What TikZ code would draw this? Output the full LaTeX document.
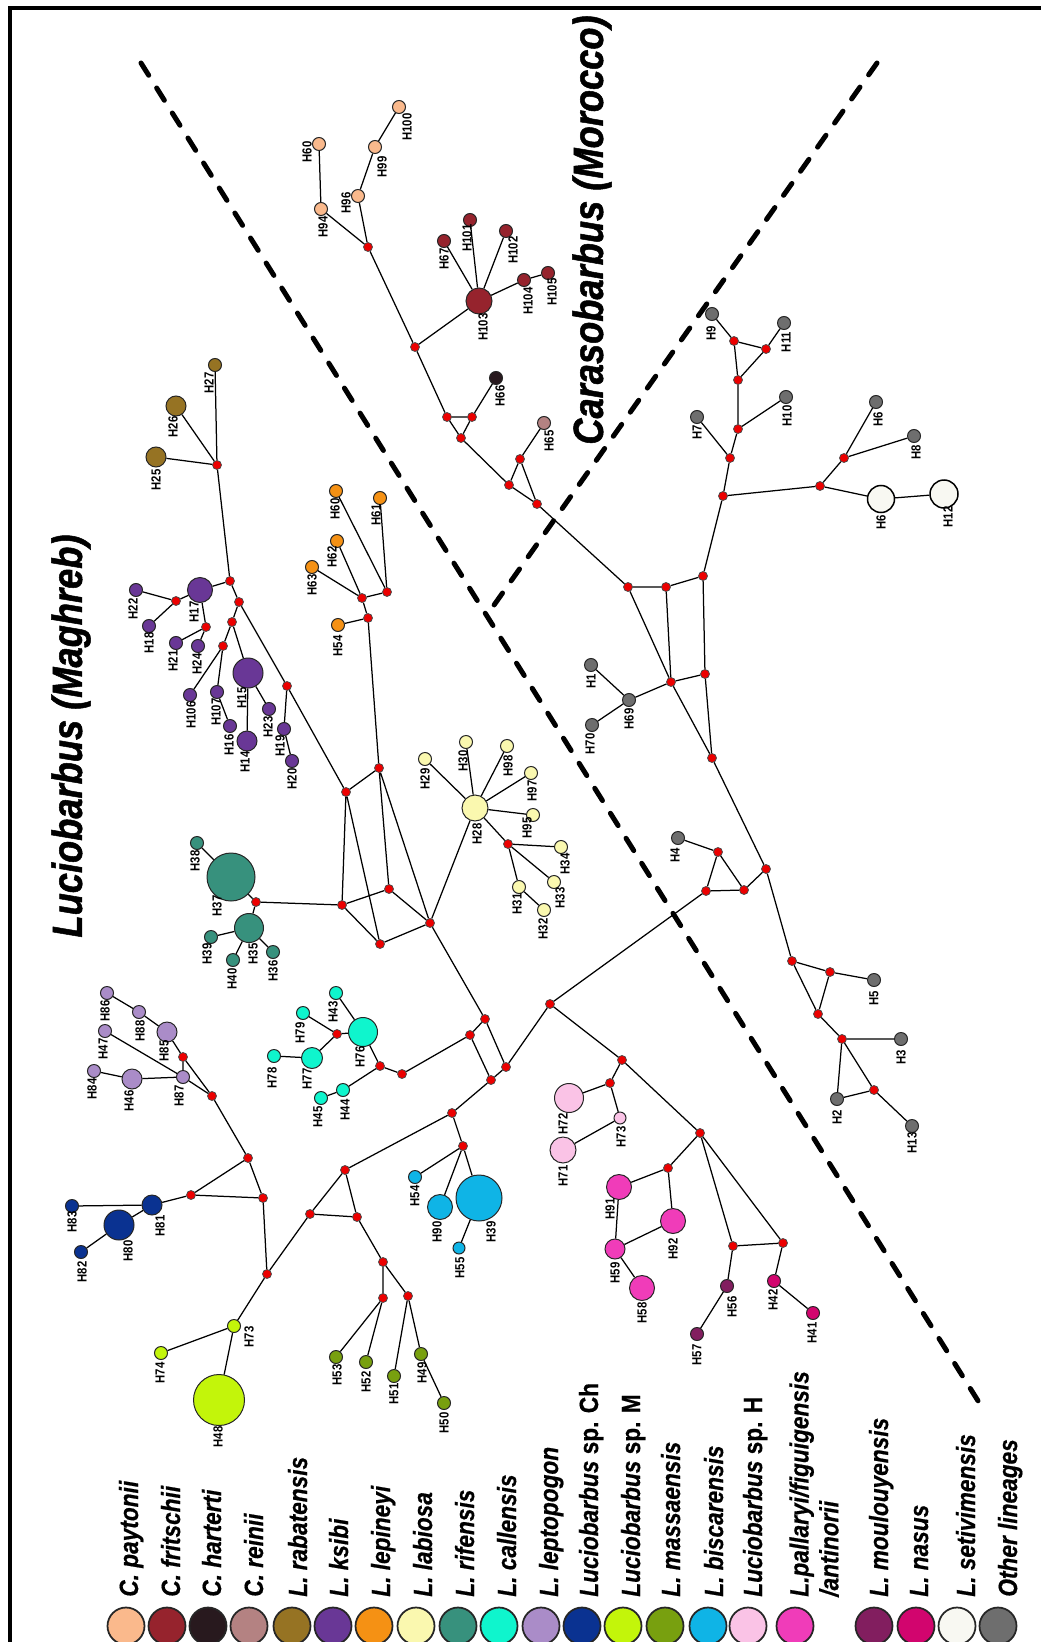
\documentclass[tikz,border=0pt]{standalone}
\usepackage{fontspec}
\setmainfont{Liberation Sans}
\newfontfamily\narrowsf[FakeStretch=0.86]{Liberation Sans}
\usetikzlibrary{shapes}
\definecolor{medred}{RGB}{236,0,0}
\definecolor{cpay}{RGB}{250,185,140}
\definecolor{cfri}{RGB}{150,35,45}
\definecolor{char}{RGB}{40,25,30}
\definecolor{crei}{RGB}{180,130,130}
\definecolor{lrab}{RGB}{150,115,35}
\definecolor{lksi}{RGB}{105,55,150}
\definecolor{llep}{RGB}{245,145,20}
\definecolor{llab}{RGB}{250,248,175}
\definecolor{lrif}{RGB}{55,145,125}
\definecolor{lcal}{RGB}{15,245,205}
\definecolor{llpt}{RGB}{170,140,200}
\definecolor{lsch}{RGB}{10,50,145}
\definecolor{lspm}{RGB}{195,245,10}
\definecolor{lmas}{RGB}{120,160,15}
\definecolor{lbis}{RGB}{15,180,230}
\definecolor{lsph}{RGB}{250,195,230}
\definecolor{lpal}{RGB}{240,60,185}
\definecolor{lmou}{RGB}{130,30,95}
\definecolor{lnas}{RGB}{210,5,110}
\definecolor{lset}{RGB}{248,248,242}
\definecolor{oth}{RGB}{110,110,110}

\begin{document}
\begin{tikzpicture}
  [x=0.2mm,y=-0.2mm,
   hap/.style={circle,draw=black!85,line width=0.2mm,inner sep=0pt,minimum size=#1*0.2mm},
   med/.style={circle,draw=black!70,fill=medred,line width=0.15mm,inner sep=0pt,minimum size=1.8mm},
   edge/.style={line width=0.25mm},
   lab/.style={rotate=90,inner sep=0pt,font=\narrowsf\bfseries\fontsize{7.5}{8}\selectfont},
   key/.style={circle,draw=black!85,line width=0.35mm,inner sep=0pt,minimum size=7.4mm},
   keytext/.style={rotate=90,anchor=base west,inner sep=0pt,font=\narrowsf\bfseries\fontsize{15}{17}\selectfont\addfontfeature{FakeBold=0.6}},
   title/.style={rotate=90,inner sep=0pt,font=\narrowsf\bfseries\itshape\fontsize{24}{28}\selectfont\addfontfeature{FakeBold=1.2}},
   divide/.style={line width=1mm,dash pattern=on 2.9mm off 3mm,line cap=round}]

  \useasboundingbox (0,0) rectangle (1041,1642);
  \draw[line width=0.8mm] (10,1642) -- (10,8) -- (1041,8);

  % group borders
  \coordinate (d1a) at (141,63);
  \coordinate (d1b) at (985,1412);
  \coordinate (d2a) at (877,63);
  \coordinate (d2b) at (487,615);
  \draw[divide] (d1a) -- (d1b);
  \draw[divide] (d2a) -- (d2b);

  \node[title] (tcar) at (592,230) {Carasobarbus (Morocco)};
  \node[title] (tluc) at (71,736) {Luciobarbus (Maghreb)};

  % median vectors
  \node[med] (v1) at (368,247) {};
  \node[med] (v2) at (415,347) {};
  \node[med] (v3) at (734,341) {};
  \node[med] (v4) at (766,349) {};
  \node[med] (v5) at (738,380) {};
  \node[med] (v6) at (217,465) {};
  \node[med] (v7) at (230,581) {};
  \node[med] (v8) at (176,601) {};
  \node[med] (v9) at (239,602) {};
  \node[med] (v10) at (206,627) {};
  \node[med] (v11) at (232,622) {};
  \node[med] (v12) at (223,646) {};
  \node[med] (v13) at (287,686) {};
  \node[med] (v14) at (346,792) {};
  \node[med] (v15) at (447,417) {};
  \node[med] (v16) at (472,417) {};
  \node[med] (v17) at (461,438) {};
  \node[med] (v18) at (520,459) {};
  \node[med] (v19) at (509,485) {};
  \node[med] (v20) at (537,504) {};
  \node[med] (v21) at (628,587) {};
  \node[med] (v22) at (666,587) {};
  \node[med] (v23) at (387,592) {};
  \node[med] (v24) at (362,598) {};
  \node[med] (v25) at (368,618) {};
  \node[med] (v26) at (671,682) {};
  \node[med] (v27) at (379,768) {};
  \node[med] (v29) at (738,429) {};
  \node[med] (v30) at (730,458) {};
  \node[med] (v31) at (723,496) {};
  \node[med] (v32) at (820,486) {};
  \node[med] (v33) at (844,458) {};
  \node[med] (v34) at (703,576) {};
  \node[med] (v35) at (705,674) {};
  \node[med] (v36) at (712,758) {};
  \node[med] (v37) at (718,852) {};
  \node[med] (v38) at (706,891) {};
  \node[med] (v39) at (744,890) {};
  \node[med] (v40) at (766,869) {};
  \node[med] (v41) at (792,961) {};
  \node[med] (v42) at (830,972) {};
  \node[med] (v43) at (818,1014) {};
  \node[med] (v44) at (842,1039) {};
  \node[med] (v45) at (874,1090) {};
  \node[med] (v46) at (700,1133) {};
  \node[med] (v47) at (550,1004) {};
  \node[med] (v48) at (508,844) {};
  \node[med] (v49) at (389,889) {};
  \node[med] (v50) at (430,923) {};
  \node[med] (v51) at (380,944) {};
  \node[med] (v52) at (342,905) {};
  \node[med] (v53) at (485,1019) {};
  \node[med] (v54) at (470,1035) {};
  \node[med] (v55) at (506,1067) {};
  \node[med] (v56) at (491,1080) {};
  \node[med] (v57) at (380,1066) {};
  \node[med] (v58) at (402,1074) {};
  \node[med] (v59) at (452,1113) {};
  \node[med] (v60) at (463,1146) {};
  \node[med] (v61) at (345,1170) {};
  \node[med] (v62) at (357,1217) {};
  \node[med] (v63) at (622,1060) {};
  \node[med] (v64) at (610,1083) {};
  \node[med] (v65) at (668,1168) {};
  \node[med] (v66) at (256,902) {};
  \node[med] (v67) at (383,1262) {};
  \node[med] (v68) at (383,1298) {};
  \node[med] (v69) at (408,1296) {};
  \node[med] (v70) at (733,1246) {};
  \node[med] (v71) at (783,1243) {};
  \node[med] (v72) at (183,1057) {};
  \node[med] (v73) at (212,1096) {};
  \node[med] (v74) at (248,1158) {};
  \node[med] (v75) at (191,1195) {};
  \node[med] (v76) at (263,1198) {};
  \node[med] (v77) at (337,1034) {};
  \node[med] (v79) at (310,1214) {};
  \node[med] (v80) at (267,1274) {};

  % C. paytonii
  \node[hap=13,fill=cpay] (h60c) at (319,144) {};
  \node[hap=13,fill=cpay] (h94) at (321,209) {};
  \node[hap=13,fill=cpay] (h96) at (358,196) {};
  \node[hap=13,fill=cpay] (h99) at (375,147) {};
  \node[hap=13,fill=cpay] (h100) at (399,107) {};
  \node[lab] (th60c) at (307,152) {H60};
  \node[lab] (th94) at (323,227) {H94};
  \node[lab] (th96) at (346,203) {H96};
  \node[lab] (th99) at (382,167) {H99};
  \node[lab] (th100) at (407,127) {H100};
  % C. fritschii, C. harterti, C. reinii
  \node[hap=26,fill=cfri] (h103) at (479,301) {};
  \node[hap=13,fill=cfri] (h67) at (444,241) {};
  \node[hap=13,fill=cfri] (h101) at (470,220) {};
  \node[hap=13,fill=cfri] (h102) at (506,231) {};
  \node[hap=13,fill=cfri] (h104) at (524,280) {};
  \node[hap=13,fill=cfri] (h105) at (548,273) {};
  \node[hap=13,fill=char] (h66) at (496,378) {};
  \node[hap=13,fill=crei] (h65) at (544,423) {};
  \node[lab] (th103) at (483,327) {H103};
  \node[lab] (th67) at (444,259) {H67};
  \node[lab] (th101) at (467,238) {H101};
  \node[lab] (th102) at (513,250) {H102};
  \node[lab] (th104) at (528,301) {H104};
  \node[lab] (th105) at (552,292) {H105};
  \node[lab] (th66) at (500,396) {H66};
  \node[lab] (th65) at (549,441) {H65};
  % L. rabatensis, L. ksibi
  \node[hap=20,fill=lrab] (h25) at (156,457) {};
  \node[hap=20,fill=lrab] (h26) at (176,406) {};
  \node[hap=13,fill=lrab] (h27) at (215,365) {};
  \node[lab] (th25) at (156,480) {H25};
  \node[lab] (th26) at (173,427) {H26};
  \node[lab] (th27) at (209,383) {H27};
  \node[hap=25,fill=lksi] (h17) at (200,590) {};
  \node[hap=13,fill=lksi] (h22) at (136,590) {};
  \node[hap=13,fill=lksi] (h18) at (149,626) {};
  \node[hap=13,fill=lksi] (h21) at (176,643) {};
  \node[hap=13,fill=lksi] (h24) at (198,646) {};
  \node[hap=13,fill=lksi] (h106) at (190,695) {};
  \node[hap=13,fill=lksi] (h107) at (217,692) {};
  \node[hap=30,fill=lksi] (h15) at (248,673) {};
  \node[hap=13,fill=lksi] (h16) at (230,726) {};
  \node[hap=20,fill=lksi] (h14) at (247,741) {};
  \node[hap=13,fill=lksi] (h23) at (269,709) {};
  \node[hap=13,fill=lksi] (h19) at (284,729) {};
  \node[hap=13,fill=lksi] (h20) at (292,761) {};
  \node[lab] (th17) at (194,612) {H17};
  \node[lab] (th22) at (133,609) {H22};
  \node[lab] (th18) at (149,643) {H18};
  \node[lab] (th21) at (173,661) {H21};
  \node[lab] (th24) at (197,664) {H24};
  \node[lab] (th106) at (191,715) {H106};
  \node[lab] (th107) at (216,712) {H107};
  \node[lab] (th15) at (242,698) {H15};
  \node[lab] (th16) at (229,745) {H16};
  \node[lab] (th14) at (245,762) {H14};
  \node[lab] (th23) at (268,727) {H23};
  \node[lab] (th19) at (280,746) {H19};
  \node[lab] (th20) at (292,779) {H20};
  % L. lepineyi
  \node[hap=13,fill=llep] (h60o) at (336,491) {};
  \node[hap=13,fill=llep] (h62) at (337,541) {};
  \node[hap=13,fill=llep] (h63) at (312,567) {};
  \node[hap=13,fill=llep] (h54o) at (338,625) {};
  \node[hap=13,fill=llep] (h61) at (380,498) {};
  \node[lab] (th60o) at (335,509) {H60};
  \node[lab] (th62) at (332,557) {H62};
  \node[lab] (th63) at (312,585) {H63};
  \node[lab] (th54o) at (338,646) {H54};
  \node[lab] (th61) at (376,515) {H61};
  % L. labiosa
  \node[hap=26,fill=llab] (h28) at (475,808) {};
  \node[hap=13,fill=llab] (h29) at (425,759) {};
  \node[hap=13,fill=llab] (h30) at (466,742) {};
  \node[hap=13,fill=llab] (h98) at (507,746) {};
  \node[hap=13,fill=llab] (h97) at (531,773) {};
  \node[hap=13,fill=llab] (h95) at (533,815) {};
  \node[hap=13,fill=llab] (h34) at (561,847) {};
  \node[hap=13,fill=llab] (h33) at (554,882) {};
  \node[hap=13,fill=llab] (h31) at (519,887) {};
  \node[hap=13,fill=llab] (h32) at (544,910) {};
  \node[lab] (th28) at (477,834) {H28};
  \node[lab] (th29) at (425,779) {H29};
  \node[lab] (th30) at (463,761) {H30};
  \node[lab] (th98) at (508,766) {H98};
  \node[lab] (th97) at (532,791) {H97};
  \node[lab] (th95) at (527,828) {H95};
  \node[lab] (th34) at (565,864) {H34};
  \node[lab] (th33) at (560,898) {H33};
  \node[lab] (th31) at (517,904) {H31};
  \node[lab] (th32) at (543,929) {H32};
  % L. rifensis
  \node[hap=48,fill=lrif] (h37) at (231,877) {};
  \node[hap=13,fill=lrif] (h38) at (197,843) {};
  \node[hap=29,fill=lrif] (h35) at (249,928) {};
  \node[hap=13,fill=lrif] (h39t) at (211,937) {};
  \node[hap=13,fill=lrif] (h40) at (233,960) {};
  \node[hap=13,fill=lrif] (h36) at (273,952) {};
  \node[lab] (th37) at (217,906) {H37};
  \node[lab] (th38) at (195,861) {H38};
  \node[lab] (th35) at (253,954) {H35};
  \node[lab] (th39t) at (207,954) {H39};
  \node[lab] (th40) at (232,979) {H40};
  \node[lab] (th36) at (273,971) {H36};
  % L. callensis
  \node[hap=29,fill=lcal] (h76) at (363,1032) {};
  \node[hap=13,fill=lcal] (h43) at (336,993) {};
  \node[hap=13,fill=lcal] (h79) at (303,1013) {};
  \node[hap=21,fill=lcal] (h77) at (312,1058) {};
  \node[hap=13,fill=lcal] (h78) at (274,1056) {};
  \node[hap=13,fill=lcal] (h44) at (343,1090) {};
  \node[hap=13,fill=lcal] (h45) at (321,1098) {};
  \node[lab] (th76) at (360,1057) {H76};
  \node[lab] (th43) at (333,1012) {H43};
  \node[lab] (th79) at (300,1033) {H79};
  \node[lab] (th77) at (307,1079) {H77};
  \node[lab] (th78) at (272,1078) {H78};
  \node[lab] (th44) at (345,1110) {H44};
  \node[lab] (th45) at (318,1117) {H45};
  % L. leptopogon
  \node[hap=13,fill=llpt] (h86) at (107,993) {};
  \node[hap=13,fill=llpt] (h88) at (139,1012) {};
  \node[hap=20,fill=llpt] (h85) at (167,1032) {};
  \node[hap=13,fill=llpt] (h47) at (105,1031) {};
  \node[hap=13,fill=llpt] (h84) at (94,1071) {};
  \node[hap=20,fill=llpt] (h46) at (132,1079) {};
  \node[hap=13,fill=llpt] (h87) at (183,1077) {};
  \node[lab] (th86) at (105,1011) {H86};
  \node[lab] (th88) at (140,1031) {H88};
  \node[lab] (th85) at (164,1051) {H85};
  \node[lab] (th47) at (103,1049) {H47};
  \node[lab] (th84) at (92,1089) {H84};
  \node[lab] (th46) at (129,1101) {H46};
  \node[lab] (th87) at (179,1096) {H87};
  % Luciobarbus sp. Ch, sp. M
  \node[hap=20,fill=lsch] (h81) at (152,1205) {};
  \node[hap=13,fill=lsch] (h83) at (72,1206) {};
  \node[hap=30,fill=lsch] (h80) at (119,1225) {};
  \node[hap=13,fill=lsch] (h82) at (81,1252) {};
  \node[lab] (th81) at (160,1226) {H81};
  \node[lab] (th83) at (72,1222) {H83};
  \node[lab] (th80) at (128,1251) {H80};
  \node[lab] (th82) at (82,1272) {H82};
  \node[hap=13,fill=lspm] (h73g) at (234,1326) {};
  \node[hap=13,fill=lspm] (h74) at (161,1353) {};
  \node[hap=51,fill=lspm] (h48) at (219,1400) {};
  \node[lab] (th73g) at (249,1337) {H73};
  \node[lab] (th74) at (160,1373) {H74};
  \node[lab] (th48) at (218,1437) {H48};
  % L. massaensis
  \node[hap=13,fill=lmas] (h53) at (336,1357) {};
  \node[hap=13,fill=lmas] (h52) at (366,1362) {};
  \node[hap=13,fill=lmas] (h51) at (394,1376) {};
  \node[hap=13,fill=lmas] (h49) at (421,1354) {};
  \node[hap=13,fill=lmas] (h50) at (444,1403) {};
  \node[lab] (th53) at (337,1375) {H53};
  \node[lab] (th52) at (366,1382) {H52};
  \node[lab] (th51) at (394,1394) {H51};
  \node[lab] (th49) at (422,1373) {H49};
  \node[lab] (th50) at (444,1423) {H50};
  % L. biscarensis
  \node[hap=13,fill=lbis] (h54b) at (415,1177) {};
  \node[hap=25,fill=lbis] (h90) at (440,1207) {};
  \node[hap=46,fill=lbis] (h39b) at (479,1198) {};
  \node[hap=12,fill=lbis] (h55) at (459,1248) {};
  \node[lab] (th54b) at (415,1196) {H54};
  \node[lab] (th90) at (437,1232) {H90};
  \node[lab] (th39b) at (491,1232) {H39};
  \node[lab] (th55) at (460,1268) {H55};
  % Luciobarbus sp. H, L. pallaryi
  \node[hap=29,fill=lsph] (h72) at (569,1098) {};
  \node[hap=12,fill=lsph] (h73p) at (620,1118) {};
  \node[hap=26,fill=lsph] (h71) at (563,1150) {};
  \node[lab] (th72) at (563,1124) {H72};
  \node[lab] (th73p) at (621,1137) {H73};
  \node[lab] (th71) at (563,1176) {H71};
  \node[hap=25,fill=lpal] (h91) at (619,1187) {};
  \node[hap=25,fill=lpal] (h92) at (673,1221) {};
  \node[hap=20,fill=lpal] (h59) at (615,1249) {};
  \node[hap=25,fill=lpal] (h58) at (642,1288) {};
  \node[lab] (th91) at (610,1209) {H91};
  \node[lab] (th92) at (673,1249) {H92};
  \node[lab] (th59) at (615,1273) {H59};
  \node[lab] (th58) at (642,1313) {H58};
  % L. moulouyensis, L. nasus
  \node[hap=13,fill=lmou] (h56) at (727,1286) {};
  \node[hap=13,fill=lmou] (h57) at (697,1334) {};
  \node[hap=13,fill=lnas] (h42) at (774,1281) {};
  \node[hap=13,fill=lnas] (h41) at (813,1313) {};
  \node[lab] (th56) at (732,1307) {H56};
  \node[lab] (th57) at (697,1355) {H57};
  \node[lab] (th42) at (773,1300) {H42};
  \node[lab] (th41) at (812,1333) {H41};
  % L. setivimensis, other lineages
  \node[hap=27,fill=lset,line width=0.3mm,draw=black] (h6w) at (881,499) {};
  \node[hap=28,fill=lset,line width=0.3mm,draw=black] (h12) at (944,494) {};
  \node[lab] (th6w) at (881,522) {H6};
  \node[lab] (th12) at (948,517) {H12};
  \node[hap=13,fill=oth] (h9) at (712,314) {};
  \node[hap=13,fill=oth] (h11) at (784,323) {};
  \node[hap=13,fill=oth] (h10) at (786,397) {};
  \node[hap=13,fill=oth] (h6g) at (876,402) {};
  \node[hap=13,fill=oth] (h7) at (697,417) {};
  \node[hap=13,fill=oth] (h8) at (914,436) {};
  \node[hap=13,fill=oth] (h1) at (591,665) {};
  \node[hap=13,fill=oth] (h69) at (629,700) {};
  \node[hap=13,fill=oth] (h70) at (592,725) {};
  \node[hap=13,fill=oth] (h4) at (678,838) {};
  \node[hap=13,fill=oth] (h5) at (874,980) {};
  \node[hap=13,fill=oth] (h3) at (901,1039) {};
  \node[hap=13,fill=oth] (h2) at (837,1099) {};
  \node[hap=13,fill=oth] (h13) at (912,1126) {};
  \node[lab] (th9) at (711,333) {H9};
  \node[lab] (th11) at (786,342) {H11};
  \node[lab] (th10) at (787,416) {H10};
  \node[lab] (th6g) at (878,419) {H6};
  \node[lab] (th7) at (697,432) {H7};
  \node[lab] (th8) at (916,452) {H8};
  \node[lab] (th1) at (591,681) {H1};
  \node[lab] (th69) at (629,719) {H69};
  \node[lab] (th70) at (590,744) {H70};
  \node[lab] (th4) at (675,855) {H4};
  \node[lab] (th5) at (874,998) {H5};
  \node[lab] (th3) at (901,1057) {H3};
  \node[lab] (th2) at (837,1117) {H2};
  \node[lab] (th13) at (912,1143) {H13};

  % links
  \draw[edge] (h60c) -- (h94) -- (v1) -- (h96) -- (h99) -- (h100);
  \draw[edge] (v1) -- (v2) -- (h103) -- (h67);
  \draw[edge] (h103) -- (h101);
  \draw[edge] (h103) -- (h102);
  \draw[edge] (h103) -- (h104) -- (h105);
  \draw[edge] (v2) -- (v15) -- (v16) -- (v17) -- (v15);
  \draw[edge] (v16) -- (h66);
  \draw[edge] (v17) -- (v19) -- (v18) -- (h65);
  \draw[edge] (v18) -- (v20) -- (v19);
  \draw[edge] (v20) -- (v21) -- (v22) -- (v26) -- (v21);
  \draw[edge] (v26) -- (h69) -- (h1);
  \draw[edge] (h69) -- (h70);
  \draw[edge] (v22) -- (v34) -- (v35) -- (v36) -- (v26) -- (v35);
  \draw[edge] (h9) -- (v3) -- (v4) -- (v5) -- (v3);
  \draw[edge] (v4) -- (h11);
  \draw[edge] (v5) -- (v29) -- (h10);
  \draw[edge] (v29) -- (v30) -- (h7);
  \draw[edge] (v30) -- (v31) -- (v32) -- (v33) -- (h6g);
  \draw[edge] (v33) -- (h8);
  \draw[edge] (v32) -- (h6w) -- (h12);
  \draw[edge] (v31) -- (v34);
  \draw[edge] (v36) -- (v40) -- (v39) -- (v37) -- (v38) -- (v39);
  \draw[edge] (v37) -- (h4);
  \draw[edge] (v38) -- (v47);
  \draw[edge] (v40) -- (v41) -- (v42) -- (v43) -- (v41);
  \draw[edge] (v42) -- (h5);
  \draw[edge] (v43) -- (v44) -- (h3);
  \draw[edge] (v44) -- (h2) -- (v45) -- (v44);
  \draw[edge] (v45) -- (h13);
  \draw[edge] (v47) -- (v63) -- (v46) -- (v65) -- (h91) -- (h59) -- (h58);
  \draw[edge] (v65) -- (h92) -- (h59);
  \draw[edge] (v63) -- (v64) -- (h72);
  \draw[edge] (v64) -- (h73p) -- (h71);
  \draw[edge] (v46) -- (v70) -- (v71) -- (v46);
  \draw[edge] (v70) -- (h56) -- (h57);
  \draw[edge] (v71) -- (h42) -- (h41);
  \draw[edge] (v47) -- (v55) -- (v53) -- (v54) -- (v56) -- (v55);
  \draw[edge] (v54) -- (v58) -- (v57) -- (h76) -- (h43);
  \draw[edge] (v57) -- (h44) -- (h45);
  \draw[edge] (h76) -- (v77) -- (h79);
  \draw[edge] (v77) -- (h77) -- (h78);
  \draw[edge] (v56) -- (v59) -- (v60) -- (h54b);
  \draw[edge] (v60) -- (h90);
  \draw[edge] (v60) -- (h39b) -- (h55);
  \draw[edge] (v59) -- (v61) -- (v62) -- (v79) -- (v61);
  \draw[edge] (v62) -- (v67) -- (v68) -- (h53);
  \draw[edge] (v68) -- (h52);
  \draw[edge] (v67) -- (v69) -- (h51);
  \draw[edge] (v69) -- (h49) -- (h50);
  \draw[edge] (v79) -- (v80) -- (h73g) -- (h74);
  \draw[edge] (h73g) -- (h48);
  \draw[edge] (v80) -- (v76) -- (v74) -- (v75) -- (v76);
  \draw[edge] (v75) -- (h81) -- (h83);
  \draw[edge] (h81) -- (h80) -- (h82);
  \draw[edge] (v74) -- (v73) -- (v72) -- (h85) -- (h88) -- (h86);
  \draw[edge] (v72) -- (h87) -- (v73);
  \draw[edge] (h87) -- (h47);
  \draw[edge] (h87) -- (h46) -- (h84);
  \draw[edge] (v53) -- (v50) -- (h28) -- (h29);
  \draw[edge] (h28) -- (h30);
  \draw[edge] (h28) -- (h98);
  \draw[edge] (h28) -- (h97);
  \draw[edge] (h28) -- (h95);
  \draw[edge] (h28) -- (v48) -- (h34);
  \draw[edge] (v48) -- (h33);
  \draw[edge] (v48) -- (h31) -- (h32);
  \draw[edge] (v27) -- (v14) -- (v52) -- (v49) -- (v27) -- (v50) -- (v51) -- (v14);
  \draw[edge] (v52) -- (v51);
  \draw[edge] (v49) -- (v50);
  \draw[edge] (v27) -- (v25) -- (v24) -- (v23) -- (h60o);
  \draw[edge] (v23) -- (h61);
  \draw[edge] (v24) -- (h62);
  \draw[edge] (v24) -- (h63);
  \draw[edge] (v25) -- (h54o);
  \draw[edge] (v52) -- (v66) -- (h37) -- (h38);
  \draw[edge] (v66) -- (h35) -- (h39t);
  \draw[edge] (h35) -- (h40);
  \draw[edge] (h35) -- (h36);
  \draw[edge] (v14) -- (v13) -- (v9) -- (v7) -- (v6) -- (h25);
  \draw[edge] (v6) -- (h26);
  \draw[edge] (v6) -- (h27);
  \draw[edge] (v13) -- (h19) -- (h20);
  \draw[edge] (v7) -- (h17) -- (v8) -- (h22);
  \draw[edge] (v8) -- (h18);
  \draw[edge] (h17) -- (v10) -- (h21);
  \draw[edge] (v10) -- (h24);
  \draw[edge] (v9) -- (v11) -- (v12) -- (h106);
  \draw[edge] (v12) -- (h107) -- (h16);
  \draw[edge] (v11) -- (h15) -- (h14);
  \draw[edge] (h15) -- (h23);

  % legend
  \node[key,fill=cpay] (kpay) at (126,1626) {};
  \node[key,fill=cfri] (kfri) at (167,1626) {};
  \node[key,fill=char] (khar) at (208,1626) {};
  \node[key,fill=crei] (krei) at (249,1626) {};
  \node[key,fill=lrab] (krab) at (292,1626) {};
  \node[key,fill=lksi] (kksi) at (333,1626) {};
  \node[key,fill=llep] (klep) at (374,1626) {};
  \node[key,fill=llab] (klab) at (416,1626) {};
  \node[key,fill=lrif] (krif) at (458,1626) {};
  \node[key,fill=lcal] (kcal) at (499,1626) {};
  \node[key,fill=llpt] (klpt) at (541,1626) {};
  \node[key,fill=lsch] (ksch) at (582,1626) {};
  \node[key,fill=lspm] (kspm) at (623,1626) {};
  \node[key,fill=lmas] (kmas) at (665,1626) {};
  \node[key,fill=lbis] (kbis) at (708,1626) {};
  \node[key,fill=lsph] (ksph) at (748,1626) {};
  \node[key,fill=lpal] (kpal) at (795,1626) {};
  \node[key,fill=lmou] (kmou) at (874,1626) {};
  \node[key,fill=lnas] (knas) at (916,1626) {};
  \node[key,fill=lset] (kset) at (957,1626) {};
  \node[key,fill=oth] (koth) at (998,1626) {};
  \node[keytext] (npay) at (138,1597) {\itshape C. paytonii};
  \node[keytext] (nfri) at (180,1597) {\itshape C. fritschii};
  \node[keytext] (nhar) at (221,1597) {\itshape C. harterti};
  \node[keytext] (nrei) at (263,1597) {\itshape C. reinii};
  \node[keytext] (nrab) at (307,1597) {\itshape L. rabatensis};
  \node[keytext] (nksi) at (348,1597) {\itshape L. ksibi};
  \node[keytext] (nlep) at (390,1597) {\itshape L. lepineyi};
  \node[keytext] (nlab) at (432,1597) {\itshape L. labiosa};
  \node[keytext] (nrif) at (474,1597) {\itshape L. rifensis};
  \node[keytext] (ncal) at (516,1597) {\itshape L. callensis};
  \node[keytext] (nlpt) at (558,1597) {\itshape L. leptopogon};
  \node[keytext] (nsch) at (598,1597) {{\itshape Luciobarbus} sp. Ch};
  \node[keytext] (nspm) at (640,1597) {{\itshape Luciobarbus} sp. M};
  \node[keytext] (nmas) at (680,1597) {\itshape L. massaensis};
  \node[keytext] (nbis) at (723,1597) {\itshape L. biscarensis};
  \node[keytext] (nsph) at (762,1597) {{\itshape Luciobarbus} sp. H};
  \node[keytext,anchor=north west,align=left] (npal) at (789,1597)
    {\itshape L.pallaryi/figuigensis\\\itshape /antinorii};
  \node[keytext] (nmou) at (888,1597) {\itshape L. moulouyensis};
  \node[keytext] (nnas) at (928,1597) {\itshape L. nasus};
  \node[keytext] (nset) at (975,1597) {\itshape L. setivimensis};
  \node[keytext] (noth) at (1017,1597) {\itshape Other lineages};
\end{tikzpicture}
\end{document}
